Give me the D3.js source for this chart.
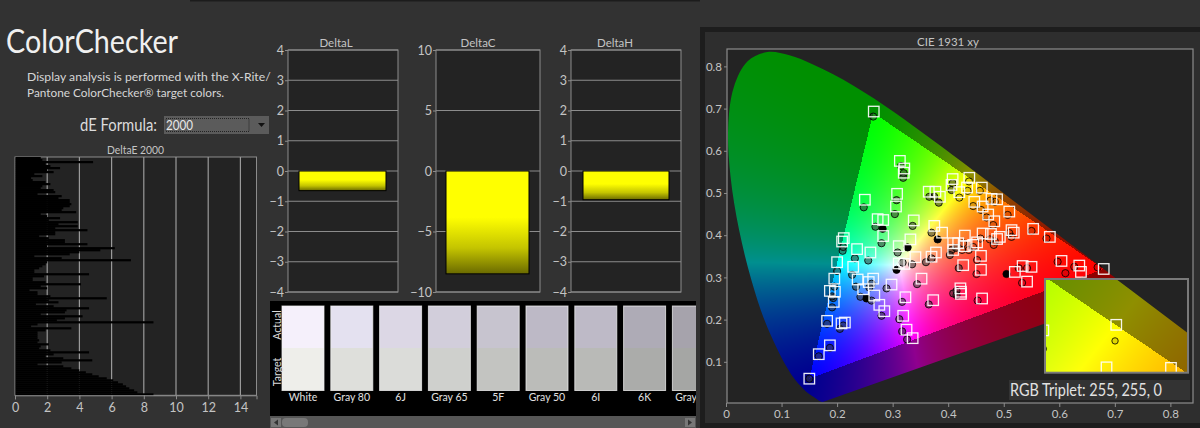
<!DOCTYPE html>
<html><head><meta charset="utf-8">
<script src="https://cdn.jsdelivr.net/npm/d3@7/dist/d3.min.js"></script>
<style>html,body{margin:0;padding:0;background:#323232;overflow:hidden}svg{display:block}
text{font-family:Lato,"Open Sans",sans-serif}</style></head><body>
<svg id="c" width="1200" height="428"></svg>
<script>
const deltaE = [1.6,1.7,4.85,1.9,2.2,2.8,2.0,2.4,1.2,1.7,1.0,1.1,1.9,2.2,1.7,1.6,2.4,2.5,1.4,2.9,2.7,3.4,3.4,3.5,3.4,3.0,2.9,3.8,1.6,2.0,2.8,2.1,3.9,2.7,3.9,2.5,4.5,2.5,2.5,1.5,2.1,3.1,3.1,4.5,2.0,6.2,5.3,4.0,3.4,1.2,2.9,7.2,2.0,1.9,1.7,1.5,1.2,1.2,4.6,1.8,1.1,1.1,1.9,4.1,1.6,2.0,0.9,1.4,1.4,2.2,5.7,2.1,2.7,1.3,2.4,4.6,3.2,3.1,1.6,4.2,3.1,2.6,8.6,1.4,1.0,3.5,1.9,1.4,1.4,1.4,1.4,1.5,1.4,2.1,1.6,1.5,2.2,4.6,2.4,1.9,3.0,4.8,2.9,1.4,3.0,3.5,4.0,4.4,4.8,5.2,5.7,6.1,6.4,6.7,6.9,7.1,7.4,7.6,8.6];
const deltaETicks = [0,2,4,6,8,10,12,14];
const deltaLabels = ["DeltaL","DeltaC","DeltaH"];
const deltaValues = [-0.65,-8.5,-0.95];
const deltaLimits = [4,10,4];
const deltaTicks = [[-4,-3,-2,-1,0,1,2,3,4],[-10,-5,0,5,10],[-4,-3,-2,-1,0,1,2,3,4]];
const swatchNames = ["White","Gray 80","6J","Gray 65","5F","Gray 50","6I","6K","Gray 35"];
const swatchActual = ["#f5f0fb","#e4e1f0","#dcd7e5","#d2cedb","#c7c4cf","#bdb9c6","#bebac7","#aeabb6","#a6a3ac"];
const swatchTarget = ["#eeeeea","#dedfdb","#dbdcd9","#cfd0cd","#c3c4c1","#bbbcb9","#b9bab7","#abacaa","#a5a6a4"];
const locusX = [.1741,.1733,.1714,.1689,.1644,.1566,.1440,.1241,.1096,.0913,.0687,.0454,.0235,.0082,.0039,.0139,.0389,.0743,.1142,.1547,.1929,.2296,.2658,.3016,.3373,.3731,.4087,.4441,.4788,.5125,.5448,.5752,.6029,.6270,.6658,.6915,.7079,.7260,.7347];
const locusY = [.0050,.0048,.0051,.0069,.0109,.0177,.0297,.0578,.0868,.1327,.2007,.2950,.4127,.5384,.6548,.7502,.8120,.8338,.8262,.8059,.7816,.7543,.7243,.6923,.6589,.6245,.5896,.5547,.5202,.4866,.4544,.4242,.3965,.3725,.3340,.3083,.2920,.2740,.2653];
const targetX = [.266,.313,.321,.320,.250,.308,.306,.273,.283,.338,.365,.377,.385,.375,.209,.212,.236,.260,.200,.229,.195,.237,.257,.265,.283,.311,.332,.311,.321,.341,.298,.352,.370,.408,.406,.438,.434,.4605,.420,.447,.462,.478,.488,.472,.483,.510,.514,.518,.553,.583,.389,.430,.462,.477,.493,.488,.409,.418,.409,.430,.445,.452,.378,.459,.427,.459,.534,.550,.520,.542,.604,.636,.639,.680,.422,.187,.196,.194,.247,.267,.276,.285,.323,.373,.319,.325,.336,.182,.208,.214,.187,.167,.150,.423,.423,.461];
const targetY = [.693,.576,.558,.548,.484,.498,.468,.438,.436,.435,.503,.503,.491,.422,.385,.393,.367,.359,.336,.325,.297,.295,.289,.297,.398,.374,.390,.333,.332,.348,.283,.297,.349,.533,.519,.536,.513,.5127,.502,.479,.468,.486,.485,.449,.433,.456,.412,.406,.415,.396,.406,.399,.404,.403,.396,.391,.381,.381,.365,.374,.377,.383,.359,.351,.329,.318,.327,.325,.313,.290,.339,.328,.313,.320,.274,.268,.266,.242,.272,.257,.235,.220,.253,.246,.209,.176,.156,.197,.191,.193,.139,.118,.060,.266,.261,.250];
const actualX = [.265,.315,.320,.319,.248,.307,.304,.269,.282,.336,.366,.375,.383,.370,.210,.211,.232,.256,.200,.227,.195,.234,.258,.262,.280,.309,.327,.307,.318,.335,.289,.344,.360,.408,.406,.4375,.435,.457,.420,.445,.459,.476,.484,.469,.481,.507,.510,.514,.550,.577,.381,.427,.458,.475,.482,.484,.406,.414,.403,.425,.437,.445,.370,.452,.419,.451,.527,.542,.505,.533,.597,.627,.611,.669,.415,.193,.191,.191,.242,.253,.262,.280,.317,.365,.312,.317,.326,.182,.205,.211,.187,.167,.150,.409,.415,.453];
const actualY = [.681,.564,.547,.536,.466,.483,.450,.420,.415,.422,.491,.491,.477,.406,.363,.372,.345,.340,.315,.306,.278,.278,.276,.285,.381,.359,.371,.318,.335,.331,.274,.284,.336,.523,.507,.5273,.505,.505,.489,.469,.460,.482,.479,.442,.424,.448,.405,.396,.410,.392,.390,.381,.392,.390,.377,.385,.365,.370,.353,.365,.365,.372,.345,.341,.322,.308,.322,.322,.308,.287,.337,.325,.310,.324,.268,.251,.255,.229,.254,.250,.245,.209,.242,.236,.201,.172,.153,.190,.178,.186,.133,.113,.060,.262,.258,.245];
const solidActual = [8,27,50,68,79,26];
const gamutX = [.68,.265,.15];
const gamutY = [.32,.69,.06];
const cieTicksX = [0,.1,.2,.3,.4,.5,.6,.7,.8];
const cieTicksY = [.1,.2,.3,.4,.5,.6,.7,.8];

const svg = d3.select("#c");
const defs = svg.append("defs");
const GRAY="#c4c4c4", FRAME="#8c8c8c", PLOT="#232323";
svg.append("rect").attr("width",1200).attr("height",428).attr("fill","#323232");
svg.append("rect").attr("x",190).attr("width",510).attr("height",1.5).attr("fill","#1c1c1c");

function fit(sel,len){return sel.attr("textLength",len).attr("lengthAdjust","spacingAndGlyphs");}
// heading
fit(svg.append("text").attr("x",6).attr("y",53).attr("font-size",32).attr("fill","#f0f0f0").text("ColorChecker"),172);
svg.append("text").attr("x",27).attr("y",81).attr("font-size",12.2).attr("fill","#d6d6d6").text("Display analysis is performed with the X-Rite/");
svg.append("text").attr("x",27).attr("y",97).attr("font-size",11.8).attr("fill","#d6d6d6").text("Pantone ColorChecker® target colors.");
fit(svg.append("text").attr("x",80).attr("y",131).attr("font-size",16.5).attr("fill","#dcdcdc").text("dE Formula:"),77);
svg.append("rect").attr("x",164).attr("y",116).attr("width",105).attr("height",18).attr("fill","#5b5b5b");
svg.append("rect").attr("x",166).attr("y",118.5).attr("width",83).attr("height",13).attr("fill","none").attr("stroke","#222").attr("stroke-dasharray","1 1");
fit(svg.append("text").attr("x",166).attr("y",130).attr("font-size",14).attr("fill","#e8e8e8").text("2000"),27);
svg.append("path").attr("d","M258 123h7l-3.5 4z").attr("fill","#111");

// DeltaE
const deX = d3.scaleLinear().domain([0,15]).range([15,256.5]);
const deY = d3.scaleBand().domain(d3.range(deltaE.length)).range([157,395.3]).paddingInner(0);
fit(svg.append("text").attr("x",135.5).attr("y",154).attr("text-anchor","middle").attr("font-size",11.5).attr("fill",GRAY).text("DeltaE 2000"),57);
svg.append("rect").attr("x",15).attr("y",157).attr("width",241.5).attr("height",238.3).attr("fill",PLOT).attr("stroke",FRAME);
svg.append("g").selectAll("line").data(deltaETicks.slice(1)).join("line")
  .attr("x1",d=>deX(d)).attr("x2",d=>deX(d)).attr("y1",157).attr("y2",395.3).attr("stroke","#9a9a9a").attr("stroke-width",1.2);
svg.append("g").selectAll("rect").data(deltaE).join("rect")
  .attr("x",15.5).attr("y",(d,i)=>deY(i)).attr("width",d=>deX(d)-15.5).attr("height",deY.bandwidth()+.2).attr("fill","#000");
const deAxis = svg.append("g").attr("transform","translate(0,395.3)").call(d3.axisBottom(deX).tickValues(deltaETicks).tickSize(4).tickPadding(4).tickFormat(d3.format("d")));
deAxis.select(".domain").attr("stroke",FRAME);
deAxis.selectAll("line").attr("stroke",FRAME);
deAxis.selectAll("text").attr("font-size",12.5).attr("fill",GRAY);

// Delta bars
const deltaLeft=[288,436,571], deltaRight=[398,540,681], barL=[299,446,583], barR=[386,529,669], titleX=[336,478,615];
const grad = defs.append("linearGradient").attr("id","yb").attr("x1",0).attr("x2",0).attr("y1",0).attr("y2",1);
[[0,"#ffff00"],[.45,"#ffff00"],[.75,"#c4c400"],[1,"#6a6a00"]].forEach(s=>grad.append("stop").attr("offset",s[0]).attr("stop-color",s[1]));
deltaLabels.forEach((name,i)=>{
  const y=d3.scaleLinear().domain([-deltaLimits[i],deltaLimits[i]]).range([292,50]);
  const g=svg.append("g");
  g.append("text").attr("x",titleX[i]).attr("y",47).attr("text-anchor","middle").attr("font-size",11.5).attr("fill",GRAY).text(name);
  g.append("rect").attr("x",deltaLeft[i]).attr("y",50).attr("width",deltaRight[i]-deltaLeft[i]).attr("height",242).attr("fill",PLOT).attr("stroke",FRAME);
  g.selectAll(".grid").data(deltaTicks[i]).join("line").attr("x1",deltaLeft[i]).attr("x2",deltaRight[i])
    .attr("y1",d=>y(d)).attr("y2",d=>y(d)).attr("stroke","#8c8c8c");
  const ax=g.append("g").attr("transform",`translate(${deltaLeft[i]},0)`).call(d3.axisLeft(y).tickValues(deltaTicks[i]).tickSize(3).tickPadding(1).tickFormat(d3.format("d")));
  ax.select(".domain").remove(); ax.selectAll("line").attr("stroke",FRAME);
  ax.selectAll("text").attr("font-size",12.5).attr("fill",GRAY);
  g.append("rect").attr("x",barL[i]).attr("width",barR[i]-barL[i]).attr("y",y(0)).attr("height",y(deltaValues[i])-y(0))
    .attr("fill","url(#yb)").attr("stroke","#000");
});

// swatches
svg.append("rect").attr("x",270).attr("y",301).attr("width",426).attr("height",115).attr("fill","#000");
defs.append("clipPath").attr("id","swc").append("rect").attr("x",270).attr("y",301).attr("width",426).attr("height",115);
const swX=d3.scaleBand().domain(swatchNames).range([282,282+48.8*9]).paddingInner(0).paddingOuter(0);
const sw=svg.append("g").attr("clip-path","url(#swc)").selectAll("g").data(swatchNames).join("g").attr("transform",d=>`translate(${swX(d)},0)`);
sw.append("rect").attr("y",306).attr("width",42).attr("height",42).attr("fill",(d,i)=>swatchActual[i]);
sw.append("rect").attr("y",348).attr("width",42).attr("height",42.5).attr("fill",(d,i)=>swatchTarget[i]);
sw.append("rect").attr("y",306).attr("width",42).attr("height",84.5).attr("fill","none").attr("stroke","#f2f2f2").attr("stroke-opacity",.75);
sw.append("text").attr("x",21).attr("y",401).attr("text-anchor","middle").attr("font-size",10.5).attr("fill","#e0e0e0").text(d=>d);
[["Actual",325],["Target",372]].forEach(t=>svg.append("text").attr("transform",`translate(281,${t[1]}) rotate(-90)`).attr("text-anchor","middle").attr("font-size",10.5).attr("fill","#dcdcdc").text(t[0]));
svg.append("rect").attr("x",270).attr("y",416).attr("width",426).attr("height",12).attr("fill","#565656");
svg.append("rect").attr("x",271).attr("y",418).attr("width",10).attr("height",9).attr("fill","#777");
svg.append("path").attr("d","M278 419.5v6l-4 -3z").attr("fill","#333");
svg.append("rect").attr("x",282).attr("y",418).attr("width",26).attr("height",9).attr("rx",4).attr("fill","#787878");
svg.append("rect").attr("x",685).attr("y",418).attr("width",10).attr("height",9).attr("fill","#777");
svg.append("path").attr("d","M688 419.5v6l4 -3z").attr("fill","#333");

// CIE panel
svg.append("rect").attr("x",700).attr("y",27).attr("width",500).attr("height",401).attr("fill","#1d1d1d");
svg.append("rect").attr("x",705).attr("y",32).attr("width",495).attr("height",391).attr("fill","#2e2e2e");
const cx=d3.scaleLinear().domain([0,.84]).range([726,1192.6]);
const cy=d3.scaleLinear().domain([0,.84]).range([404,49.5]);
svg.append("rect").attr("x",727).attr("y",49).attr("width",466).attr("height",354).attr("fill",PLOT).attr("stroke",FRAME).attr("stroke-width",1.2);
svg.append("text").attr("x",948).attr("y",46).attr("text-anchor","middle").attr("font-size",11.5).attr("fill",GRAY).text("CIE 1931 xy");

function encode(v){return Math.pow(v,1.2);}
function chroma(sx,sy,w,h,x0,y0){
  const cv=document.createElement("canvas");cv.width=w;cv.height=h;
  const ctx=cv.getContext("2d");const im=ctx.createImageData(w,h);
  const sign=(a,b,c,d,e,f)=>(a-e)*(d-f)-(c-e)*(b-f);
  for(let j=0;j<h;j++)for(let i=0;i<w;i++){
    const x=sx.invert(x0+i+.5),y=Math.max(sy.invert(y0+j+.5),.001);
    const X=x/y,Z=(1-x-y)/y;
    let r=Math.max(0,2.4935*X-.9314-.4027*Z),g=Math.max(0,-.8295*X+1.7627+.0236*Z),b=Math.max(0,.0358*X-.0762+.9569*Z);
    const m=Math.max(r,g,b)||1;r/=m;g/=m;b/=m;
    const d1=sign(x,y,gamutX[0],gamutY[0],gamutX[1],gamutY[1]),d2=sign(x,y,gamutX[1],gamutY[1],gamutX[2],gamutY[2]),d3v=sign(x,y,gamutX[2],gamutY[2],gamutX[0],gamutY[0]);
    const inside=!((d1<0||d2<0||d3v<0)&&(d1>0||d2>0||d3v>0));
    const k=inside?1:.56, o=(i+j*w)*4;
    im.data[o]=255*encode(r)*k;im.data[o+1]=255*encode(g)*k;im.data[o+2]=255*encode(b)*k;im.data[o+3]=255;
  }
  ctx.putImageData(im,0,0);
  return cv.toDataURL();
}
const locusPts=locusX.map((x,i)=>[x,locusY[i]]);
defs.append("clipPath").attr("id","lc").append("path").attr("d",d3.line().x(d=>cx(d[0])).y(d=>cy(d[1])).curve(d3.curveCatmullRom.alpha(.5))(locusPts)+"Z");
svg.append("image").attr("x",727).attr("y",50).attr("width",465).attr("height",353)
  .attr("href",chroma(cx,cy,465,353,727,50)).attr("clip-path","url(#lc)");

function points(g,sx,sy,sq,r){
  g.selectAll(".a").data(actualX).join("circle").attr("class","a")
    .attr("cx",d=>sx(d)).attr("cy",(d,i)=>sy(actualY[i])).attr("r",r)
    .attr("fill",(d,i)=>solidActual.includes(i)?"#000":(d<.42?"#333":"#000"))
    .attr("fill-opacity",(d,i)=>solidActual.includes(i)?1:(d<.42?.55:.12))
    .attr("stroke","#000").attr("stroke-opacity",.8);
  g.selectAll(".t").data(targetX).join("rect").attr("class","t")
    .attr("x",d=>sx(d)-sq/2).attr("y",(d,i)=>sy(targetY[i])-sq/2).attr("width",sq).attr("height",sq)
    .attr("fill","none").attr("stroke","#fff").attr("stroke-opacity",.92).attr("stroke-width",1.3);
}
points(svg.append("g"),cx,cy,10.5,3.6);

const ix=d3.scaleLinear().domain([.4087,.4675]).range([1045,1188]);
const iy=d3.scaleLinear().domain([.5101,.5608]).range([372.7,279]);
svg.append("rect").attr("x",1045).attr("y",279).attr("width",143).attr("height",93.7).attr("fill",PLOT);
defs.append("clipPath").attr("id","ic").append("rect").attr("x",1045).attr("y",279).attr("width",143).attr("height",93.7);
defs.append("clipPath").attr("id","il").append("path").attr("d",d3.line().x(d=>ix(d[0])).y(d=>iy(d[1]))(locusPts)+"Z");
const ig=svg.append("g").attr("clip-path","url(#ic)");
ig.append("image").attr("x",1045).attr("y",279).attr("width",143).attr("height",94)
  .attr("href",chroma(ix,iy,143,94,1045,279)).attr("clip-path","url(#il)");
points(ig,ix,iy,10.5,3.2);
svg.append("rect").attr("x",1045).attr("y",279).attr("width",143).attr("height",93.7).attr("fill","none").attr("stroke","#7a7a7a").attr("stroke-width",2);

svg.append("rect").attr("x",1009).attr("y",380).attr("width",181).attr("height",20).attr("fill","#333");
fit(svg.append("text").attr("x",1010).attr("y",396).attr("font-size",16.5).attr("fill","#e2e2e2").text("RGB Triplet: 255, 255, 0"),152);

const xa=svg.append("g").attr("transform","translate(0,403)").call(d3.axisBottom(cx).tickValues(cieTicksX).tickSize(4).tickPadding(3).tickFormat(d=>d===0?"0":d3.format(".1f")(d)));
const ya=svg.append("g").attr("transform","translate(727,0)").call(d3.axisLeft(cy).tickValues(cieTicksY).tickSize(3).tickPadding(2).tickFormat(d3.format(".1f")));
[xa,ya].forEach(a=>{a.select(".domain").remove();a.selectAll("line").attr("stroke",FRAME);a.selectAll("text").attr("font-size",11.5).attr("fill",GRAY);});
</script></body></html>
